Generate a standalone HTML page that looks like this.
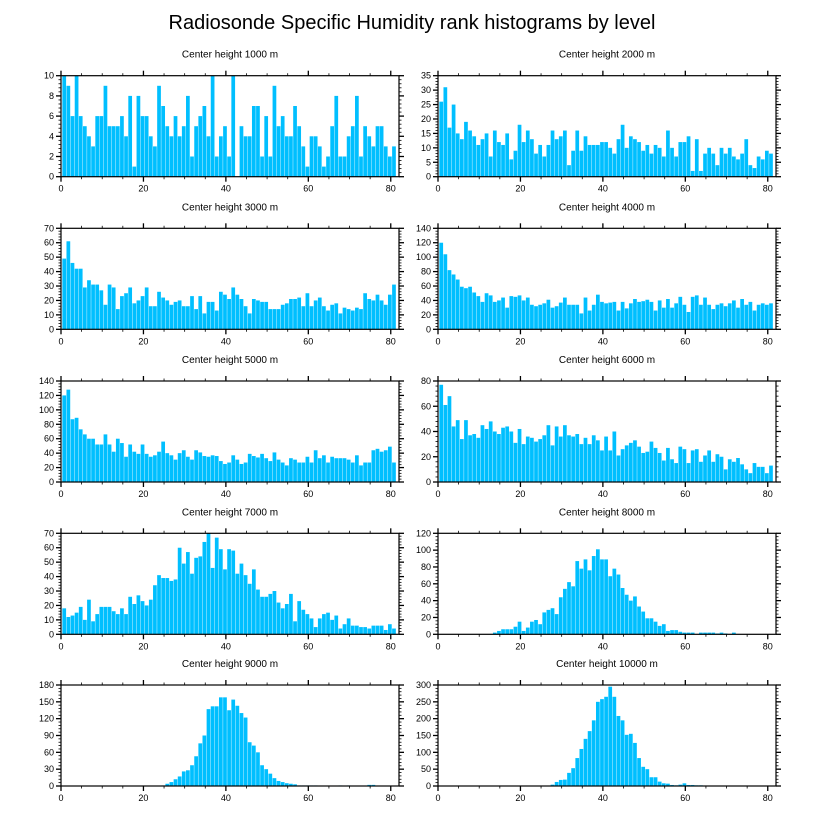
<!DOCTYPE html>
<html><head><meta charset="utf-8">
<style>
html,body{margin:0;padding:0;background:#fff;}
svg{display:block;font-family:"Liberation Sans",Arial,sans-serif;}
</style></head>
<body>
<svg id="chart" width="816" height="824" viewBox="0 0 816 824" xmlns="http://www.w3.org/2000/svg">
<text x="412" y="29" text-anchor="middle" font-size="20">Radiosonde Specific Humidity rank histograms by level</text>
</svg>
<script>
const panelTitles = ["Center height 1000 m","Center height 2000 m","Center height 3000 m","Center height 4000 m","Center height 5000 m","Center height 6000 m","Center height 7000 m","Center height 8000 m","Center height 9000 m","Center height 10000 m"];
const yMaxes = [10,35,70,140,140,80,70,120,180,300];
const yMajors = [2,5,10,20,20,20,10,20,30,50];
const xTicks = [0,20,40,60,80];
const h1000 = [10,9,6,10,6,5,4,3,6,6,9,5,5,5,6,4,8,1,8,6,6,4,3,9,7,5,4,6,4,5,8,2,5,6,7,4,10,2,4,5,2,10,0,5,4,4,7,7,2,6,2,9,5,6,4,4,7,5,3,1,4,4,3,1,2,5,8,2,2,4,5,8,2,5,4,3,5,5,3,2,3];
const h2000 = [26,31,17,25,15,13,19,16,14,11,13,15,7,16,12,11,15,6,9,18,12,16,13,8,11,7,11,16,13,14,16,4,9,16,9,14,11,11,11,12,12,10,8,13,18,10,14,13,12,9,11,8,11,10,7,16,10,7,12,12,14,2,13,2,8,10,8,4,10,8,10,7,6,8,13,4,3,7,6,9,8];
const h3000 = [49,61,46,42,42,29,34,31,31,27,17,31,29,14,23,25,29,18,20,23,29,16,16,26,22,20,17,19,20,16,16,23,14,23,11,19,19,13,26,24,21,29,24,21,16,11,21,20,19,19,14,14,14,17,18,21,21,22,16,25,16,20,22,16,13,17,18,11,15,14,13,15,14,25,21,20,24,20,17,24,31];
const h4000 = [120,104,82,76,69,59,57,59,51,46,38,50,47,38,40,44,30,46,45,47,40,44,34,32,34,36,41,30,32,37,44,34,34,34,22,44,26,34,48,38,36,37,38,26,38,29,36,42,38,39,41,38,26,40,30,42,30,36,45,34,24,45,47,34,44,34,28,34,36,32,36,40,30,42,34,38,26,34,36,34,36];
const h5000 = [120,128,87,89,73,66,60,60,52,52,66,52,42,60,54,35,52,42,39,52,39,35,37,42,56,40,37,31,40,44,35,31,44,41,36,35,37,36,29,25,27,37,31,25,27,39,36,34,39,33,29,41,31,27,23,33,31,27,27,35,27,44,33,37,27,35,33,33,33,31,27,37,23,27,27,44,46,42,44,49,27];
const h6000 = [77,61,68,44,49,34,49,37,38,35,45,42,48,40,38,43,44,40,31,42,30,36,35,32,34,37,45,29,44,36,45,37,36,38,30,35,30,37,33,25,36,25,40,21,26,29,31,33,28,23,24,32,27,23,17,27,18,15,28,26,15,25,26,16,21,25,16,22,20,10,18,16,19,14,10,7,15,12,12,7,13];
const h7000 = [18,12,13,15,19,10,24,9,14,19,19,19,16,14,18,14,26,21,27,23,20,24,34,41,39,39,37,38,60,49,57,42,53,54,64,70,46,67,59,45,59,58,42,49,41,35,45,31,26,26,28,30,22,18,21,28,9,23,17,14,11,5,11,14,15,10,13,4,7,11,6,6,5,5,4,6,6,6,3,7,4];
const h8000 = [0,0,0,0,0,0,0,0,0,0,0,0,0,2,4,6,6,6,9,15,4,8,15,17,12,26,29,31,24,44,54,62,57,87,78,89,76,93,101,89,89,69,78,71,55,47,40,45,33,27,19,19,15,10,12,4,5,5,3,2,2,2,0,2,2,2,2,1,2,1,0,2,0,0,0,0,0,0,0,0,0];
const h9000 = [0,0,0,0,0,0,0,0,0,0,0,0,0,0,0,0,0,0,0,0,0,0,0,0,1,4,7,12,17,26,28,37,53,76,90,137,142,142,158,158,135,154,143,130,122,78,72,60,37,30,22,14,9,7,5,4,3,1,1,1,1,1,0,0,0,0,0,1,0,1,0,0,0,0,2,2,0,0,0,0,0];
const h10000 = [0,0,0,0,0,0,0,0,0,0,0,0,0,0,0,0,0,0,0,0,0,0,0,0,0,1,1,4,12,18,19,39,53,83,110,140,163,195,250,258,265,295,265,208,195,152,155,128,83,57,50,26,26,13,8,7,3,2,4,8,3,3,2,2,1,1,1,1,0,0,0,0,0,0,0,0,0,0,0,0,0];
const series = [h1000,h2000,h3000,h4000,h5000,h6000,h7000,h8000,h9000,h10000];

const NS = "http://www.w3.org/2000/svg";
const svg = document.getElementById('chart');
function mk(tag, attrs, parent){
  const e = document.createElementNS(NS, tag);
  for (const k in attrs) e.setAttribute(k, attrs[k]);
  (parent||svg).appendChild(e);
  return e;
}
const colX = [61, 438];
const rowY = [75.7, 228.3, 381, 533.3, 685];
const PW = 338, PH = 101, XMAX = 82, XOFF = 0.33;

series.forEach((vals, p) => {
  const px = colX[p % 2], py = rowY[Math.floor(p / 2)];
  const ymax = yMaxes[p], ymaj = yMajors[p];
  const xs = v => px + v / XMAX * PW;
  const ys = v => py + PH - v / ymax * PH;
  const g = mk('g', {});
  
  
  const t = mk('text', {x: px + PW / 2, y: py - 18, 'text-anchor': 'middle', 'font-size': 10}, g);
  t.textContent = panelTitles[p];
  
  
  vals.forEach((v, i) => {
    if (v <= 0) return;
    const x0 = xs(i + XOFF), x1 = xs(i + 1 + XOFF);
    const r = mk('rect', {x: x0, y: ys(v), width: Math.max(0.5, x1 - x0 - 0.4), height: ys(0) - ys(v), fill: '#00bfff'}, g);
    
    
  });
  const frame = mk('rect', {x: px, y: py, width: PW, height: PH, fill: 'none', stroke: '#000', 'stroke-width': 1.2}, g);
  
  
  for (let v = 0; v <= XMAX; v += 5) {
    const major = v % 20 === 0;
    const L = major ? 5 : 2.5;
    const x = xs(v);
    mk('line', {x1: x, x2: x, y1: py, y2: py - L, stroke: '#000', 'stroke-width': major ? 1.3 : 0.8}, g);
    mk('line', {x1: x, x2: x, y1: py + PH, y2: py + PH + L, stroke: '#000', 'stroke-width': major ? 1.3 : 0.8}, g);
  }
  xTicks.forEach(v => {
    const tl = mk('text', {x: xs(v), y: py + PH + 15, 'text-anchor': 'middle', 'font-size': 9}, g);
    tl.textContent = v;
    
    
  });
  const minor = ymaj / 5;
  for (let k = 0; k * minor <= ymax + 1e-9; k++) {
    const v = k * minor;
    const major = k % 5 === 0;
    const L = major ? 5 : 2.5;
    const y = ys(v);
    mk('line', {x1: px, x2: px - L, y1: y, y2: y, stroke: '#000', 'stroke-width': major ? 1.3 : 0.8}, g);
    mk('line', {x1: px + PW, x2: px + PW + L, y1: y, y2: y, stroke: '#000', 'stroke-width': major ? 1.3 : 0.8}, g);
    if (major) {
      const yl = mk('text', {x: px - 7, y: y + 3, 'text-anchor': 'end', 'font-size': 9}, g);
      yl.textContent = v;
      
      
    }
  }
});
</script>
</body></html>
